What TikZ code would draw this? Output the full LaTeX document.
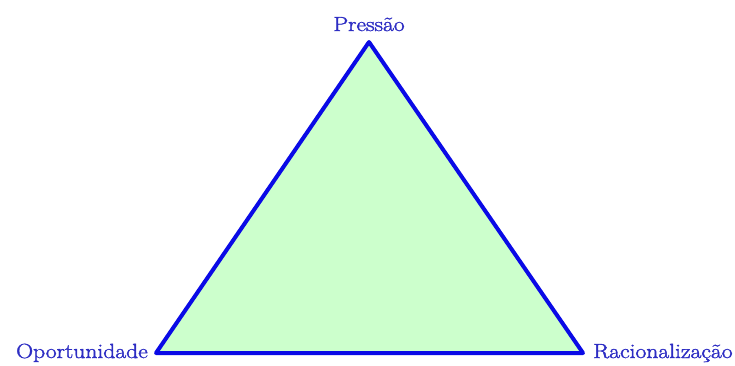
\documentclass[tikz,border=0pt]{standalone}
\usepackage{fontspec}
\newfontfamily\lblfont[FakeBold=1.6]{Latin Modern Roman}
\begin{document}
\begin{tikzpicture}[x=1pt,y=-1pt,
  lbl/.style={text=labelblue,font=\fontsize{20.5}{24}\lblfont,inner sep=0pt}]
\definecolor{edgeblue}{RGB}{10,10,230}
\definecolor{labelblue}{RGB}{45,45,195}
\definecolor{fillgreen}{RGB}{204,255,204}
\useasboundingbox (0,0) rectangle (735,365);
\coordinate (P) at (369,42);
\coordinate (O) at (156,353);
\coordinate (R) at (583,353);
\filldraw[fill=fillgreen,draw=edgeblue,line width=4pt,line join=round] (P) -- (R) -- (O) -- cycle;
\node[lbl,anchor=base] (tP) at (369,31) {\scalebox{1.15}[1]{Pressão}};
\node[lbl,anchor=base east] (tO) at (148,358) {\scalebox{1.15}[1]{Oportunidade}};
\node[lbl,anchor=base west] (tR) at (593,358) {\scalebox{1.15}[1]{Racionalização}};
\end{tikzpicture}
\end{document}
